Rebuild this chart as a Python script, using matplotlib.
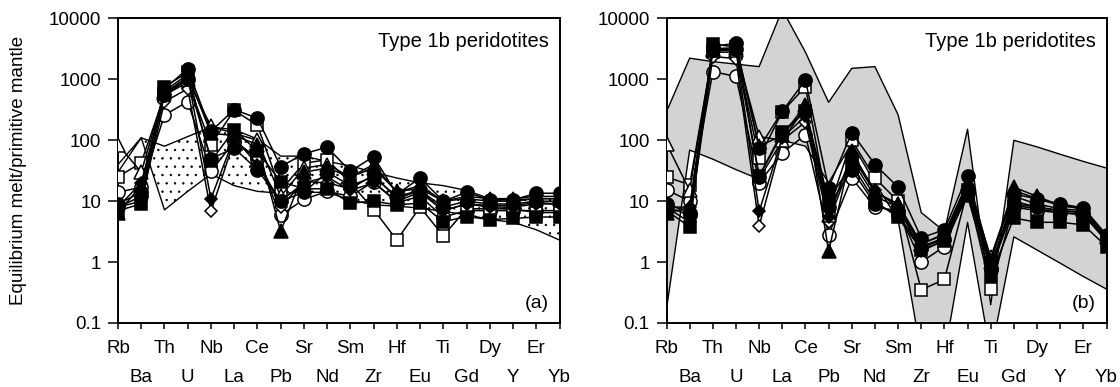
import matplotlib
matplotlib.use("Agg")
import matplotlib.pyplot as plt
from matplotlib.ticker import FixedLocator, FixedFormatter, NullLocator
import numpy as np

plt.rcParams['font.family'] = ['Liberation Sans', 'DejaVu Sans']
plt.rcParams['hatch.linewidth'] = 0.5

elements = ["Rb", "Ba", "Th", "U", "Nb", "La", "Ce", "Pb", "Sr", "Nd",
            "Sm", "Zr", "Hf", "Eu", "Ti", "Gd", "Dy", "Y", "Er", "Yb"]

# (a) melts in equilibrium, partition set 1
a_circ1 = [9, 14, 700, 1500, 140, 320, 230, 37, 60, 77, 31, 54, 13, 24, 10, 14, 10.5, 10.5, 13.5, 13.5]
a_sq1 = [7, 9, 760, 1300, 45, 150, 66, 21, 16, 16, 9.3, 10, 8.7, 9.3, 4.6, 5.6, 5.0, 5.2, 5.5, 5.5]
a_dia1 = [8, 20, 600, 1100, 11, 110, 40, 10, 20, 25, 15, 20, 10, 14, 7, 9, 8, 8, 9, 9]
a_tri1 = [6.5, 18, 650, 1200, 130, 120, 85, 3.2, 30, 35, 25, 35, 14.5, 16, 10, 11, 10, 10, 11, 11]
a_circ2 = [14, 17, 260, 430, 31, 95, 50, 5.9, 10.7, 14.5, 12, 21, 9.5, 12, 5.5, 7, 7, 7, 7, 7]
a_sq2 = [25, 43, 550, 900, 85, 310, 177, 15, 42, 48, 20, 7.3, 2.3, 8, 2.7, 7.5, 7.5, 7.5, 6.5, 6.5]
a_dia2 = [8, 10, 430, 700, 6.8, 100, 50, 8, 21, 20, 16, 27, 11, 15, 7, 9, 8.5, 8.5, 9.5, 9]
a_tri2 = [85, 30, 600, 1000, 170, 130, 100, 12, 35, 40, 25, 40, 14, 18, 10, 12, 11, 11, 12, 12]
a_circ3 = [8, 12, 550, 1000, 50, 74, 33, 10, 14, 30, 18, 25, 12, 15, 8, 10, 9, 9, 10, 10]

# (b) melts in equilibrium, partition set 2
b_circ1 = [9, 6.5, 3500, 3900, 75, 300, 970, 16.6, 134, 40, 17, 2.5, 3.4, 26, 1.1, 13, 11, 9, 7.8, 2.8]
b_sq1 = [7, 3.8, 3800, 3400, 26, 138, 300, 10.5, 40, 10, 5.4, 1.6, 2.2, 12, 0.59, 5.3, 4.5, 4.5, 4.1, 1.8]
b_dia1 = [8, 8, 3000, 3000, 6.8, 110, 250, 5.4, 60, 15, 8, 1.8, 2.5, 18, 0.9, 10, 8, 7, 6.5, 2.3]
b_tri1 = [6.3, 8, 3200, 3300, 80, 120, 380, 1.5, 66, 14, 9, 2.0, 2.8, 20, 1.0, 17, 12, 8.5, 7.5, 2.6]
b_circ2 = [15.5, 10, 1340, 1120, 20, 62, 123, 2.8, 24, 8, 7, 1.0, 1.8, 14, 0.75, 8, 7, 6.5, 6, 2.2]
b_sq2 = [25, 18.6, 2800, 2800, 51, 295, 760, 7.2, 100, 24, 10, 0.35, 0.52, 15, 0.36, 8.5, 7.5, 6.5, 6, 2.4]
b_dia2 = [8, 4.5, 2370, 2200, 3.9, 100, 200, 4.5, 48, 12, 8, 1.5, 2.3, 16, 0.8, 12, 9, 7.5, 7, 2.5]
b_tri2 = [88, 15, 3000, 3000, 115, 100, 350, 6, 55, 14, 9, 2.0, 2.9, 20, 1.2, 15, 11, 8.5, 7.5, 2.7]
b_circ3 = [8, 6, 3000, 3200, 25, 130, 300, 8, 33, 9, 6, 1.7, 2.4, 14, 0.8, 9, 8, 7, 6.5, 2.3]

# reference fields
a_field_hi = [40, 110, 80, 115, 165, 150, 105, 55, 55, 45, 38, 30, 24, 20, 18, 15, 11, 10.5, 11, 11]
a_field_lo = [30, 110, 7.2, 14.5, 28, 18, 14.5, 13.5, 14, 14, 10.5, 8.7, 8.3, 7.7, 6.8, 6, 5, 4.5, 3.4, 2.3]
b_field_hi = [295, 2230, 1960, 1780, 1620, 14000, 2800, 420, 1520, 1620, 263, 6.5, 3.2, 152, 0.2, 100, 78, 59, 45, 35]
b_field_lo = [0.17, 69, 49, 33, 23, 100, 80, 20, 90, 20, 5, 0.03, 0.03, 4.5, 0.03, 2.6, 1.58, 0.96, 0.58, 0.36]

styles = [
    ("o", "k", 9.5), ("s", "k", 8.5), ("D", "k", 6.5), ("^", "k", 9.5),
    ("o", "w", 9.5), ("s", "w", 8.5), ("D", "w", 6.5), ("^", "w", 9.5), ("o", "k", 9.5),
]
order = [4, 5, 6, 7, 2, 3, 8, 1, 0]

fig = plt.figure(figsize=(11.2, 3.87), dpi=100)
ax1 = fig.add_axes([118 / 1120, 0.1654, 441.5 / 1120, 0.7868])
ax2 = fig.add_axes([666.5 / 1120, 0.1654, 440 / 1120, 0.7868])

x = np.arange(len(elements))


def draw_panel(ax, series, lo, hi, shade, tag):
    if shade == "dots":
        ax.fill_between(x, lo, hi, facecolor="white", edgecolor="k",
                        hatch="..", linewidth=0, zorder=1)
    else:
        ax.fill_between(x, lo, hi, facecolor="#d2d3d5", linewidth=0, zorder=1)
    ax.plot(x, hi, color="k", lw=1.0, zorder=2)
    ax.plot(x, lo, color="k", lw=1.0, zorder=2)
    for i in order:
        m, fc, ms = styles[i]
        ax.plot(x, series[i], color="k", lw=1.1, marker=m, ms=ms,
                mfc=fc, mec="k", mew=1.1, zorder=3 + order.index(i))
    ax.set_yscale("log")
    ax.set_ylim(0.1, 10000)
    ax.set_xlim(0, len(elements) - 1)
    ax.set_yticks([0.1, 1, 10, 100, 1000, 10000])
    ax.set_yticklabels(["0.1", "1", "10", "100", "1000", "10000"])
    ax.yaxis.set_minor_locator(NullLocator())
    # element names alternate between two rows: even on major ticks, odd on minor
    ax.xaxis.set_major_locator(FixedLocator(x[0::2]))
    ax.xaxis.set_major_formatter(FixedFormatter(elements[0::2]))
    ax.xaxis.set_minor_locator(FixedLocator(x[1::2]))
    ax.xaxis.set_minor_formatter(FixedFormatter(elements[1::2]))
    ax.tick_params(axis="both", which="both", direction="out", width=1.1,
                   labelsize=13.5, color="k")
    ax.tick_params(axis="x", which="major", length=4.5, pad=8)
    ax.tick_params(axis="x", which="minor", length=4.5, pad=28.5)
    ax.tick_params(axis="y", length=7, pad=5)
    for sp in ax.spines.values():
        sp.set_linewidth(1.4)
    ax.text(0.975, 0.955, "Type 1b peridotites", transform=ax.transAxes,
            ha="right", va="top", fontsize=14.5)
    ax.text(0.975, 0.035, tag, transform=ax.transAxes,
            ha="right", va="bottom", fontsize=14)


draw_panel(ax1, [a_circ1, a_sq1, a_dia1, a_tri1, a_circ2, a_sq2, a_dia2, a_tri2, a_circ3],
           a_field_lo, a_field_hi, "dots", "(a)")
draw_panel(ax2, [b_circ1, b_sq1, b_dia1, b_tri1, b_circ2, b_sq2, b_dia2, b_tri2, b_circ3],
           b_field_lo, b_field_hi, "grey", "(b)")

ax1.set_ylabel("Equilibrium melt/primitive mantle", fontsize=13.5)
ax1.yaxis.set_label_coords(-0.205, 0.5)

fig.savefig("out.png", dpi=100)
